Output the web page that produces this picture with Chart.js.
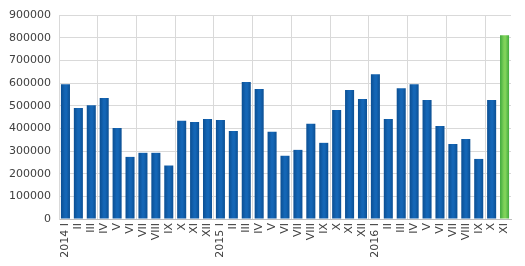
<!DOCTYPE html>
<html>
<head>
<meta charset="utf-8">
<script src="https://cdn.jsdelivr.net/npm/chart.js@4"></script>
<style>
  html, body { margin: 0; padding: 0; background: #fff; }
  #wrap { width: 525px; height: 266px; }
</style>
</head>
<body>
<div id="wrap"><canvas id="chart" width="525" height="266"></canvas></div>
<script>
var MONTHS = ['2014 I', 'II', 'III', 'IV', 'V', 'VI', 'VII', 'VIII', 'IX', 'X', 'XI', 'XII',
    '2015 I', 'II', 'III', 'IV', 'V', 'VI', 'VII', 'VIII', 'IX', 'X', 'XI', 'XII',
    '2016 I', 'II', 'III', 'IV', 'V', 'VI', 'VII', 'VIII', 'IX', 'X', 'XI'];

var VALUES = [595000, 490000, 502000, 534000, 402000, 274000, 292000, 292000, 236000, 433000, 428000, 441000,
    437000, 388000, 604000, 573000, 385000, 279000, 305000, 420000, 336000, 481000, 569000, 529000,
    639000, 441000, 577000, 595000, 525000, 410000, 331000, 353000, 265000, 525000, 811000];

var Y_MAX = 900000;
var Y_STEP = 100000;

// colori barre (ultima evidenziata in verde)
function barColor(context) {
    var chart = context.chart;
    var last = context.dataIndex === VALUES.length - 1;
    var edge = last ? '#38a43a' : '#0a4c8e';
    var mid = last ? '#7fd25a' : '#1466b6';
    if (!chart.chartArea || !chart.scales.x) {
        return mid;
    }
    var x = chart.scales.x.getPixelForValue(context.dataIndex);
    var g = chart.ctx.createLinearGradient(x - 5, 0, x + 5, 0);
    g.addColorStop(0, edge);
    g.addColorStop(0.45, mid);
    g.addColorStop(0.6, mid);
    g.addColorStop(1, edge);
    return g;
}

new Chart(document.getElementById('chart'), {
    type: 'bar',
    data: {
        labels: MONTHS,
        datasets: [{
            data: VALUES,
            backgroundColor: barColor,
            borderWidth: 0,
            barPercentage: 0.7,
            categoryPercentage: 1
        }]
    },
    options: {
        responsive: false,
        animation: false,
        layout: { padding: { top: 15, right: 14, left: 0, bottom: 0 } },
        plugins: {
            legend: { display: false },
            tooltip: { enabled: false }
        },
        scales: {
            x: {
                offset: true,
                grid: {
                    offset: true,
                    color: function (ctx) {
                        return (ctx.index % 3 === 0 && ctx.index > 0) ? '#d9d9d9' : 'rgba(0,0,0,0)';
                    },
                    drawTicks: false
                },
                border: { display: true, color: '#bfbfbf' },
                ticks: {
                    autoSkip: false,
                    maxRotation: 90,
                    minRotation: 90,
                    padding: 4,
                    color: '#404040',
                    font: { family: 'DejaVu Sans', size: 11 }
                },
                afterFit: function (scale) { scale.height = 47; }
            },
            y: {
                min: 0,
                max: Y_MAX,
                grid: { color: '#d9d9d9', drawTicks: false },
                border: { display: true, color: '#d9d9d9' },
                ticks: {
                    stepSize: Y_STEP,
                    padding: 8,
                    color: '#404040',
                    font: { family: 'DejaVu Sans', size: 11 },
                    callback: function (v) { return String(v); }
                },
                afterFit: function (scale) { scale.width = 59; }
            }
        }
    }
});
</script>
</body>
</html>
